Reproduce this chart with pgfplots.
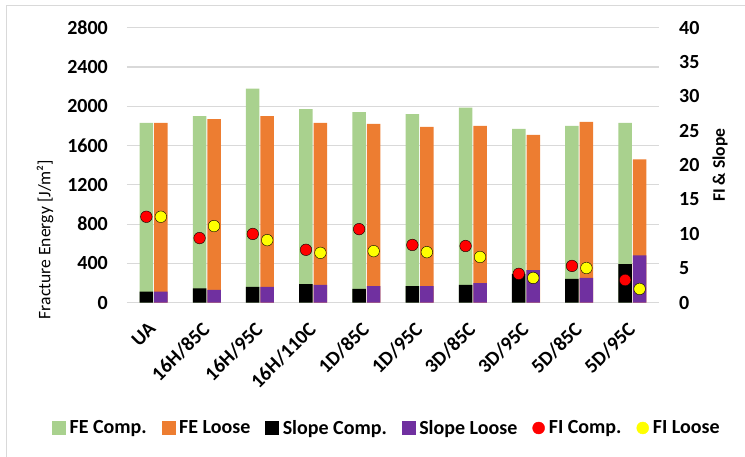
\documentclass[border=0pt]{standalone}
\usepackage{fontspec}
\setmainfont{Carlito}
\usepackage{pgfplots}
\pgfplotsset{compat=1.18}
\definecolor{fegreen}{HTML}{A9D18E}
\definecolor{feorange}{HTML}{ED7D31}
\definecolor{slpurple}{HTML}{7030A0}
\definecolor{gridgray}{HTML}{D9D9D9}
\definecolor{fiyellow}{HTML}{FFFF00}
\definecolor{fired}{HTML}{FF0000}
\begin{document}
\begin{tikzpicture}
\path[use as bounding box] (-127pt,-154.3pt) rectangle (618pt,302.7pt);
\begin{axis}[
 at={(0pt,0pt)}, anchor=south west, scale only axis, width=532pt, height=275pt,
 xmin=-0.5, xmax=9.5, ymin=0, ymax=2800,
 ytick={0,400,...,2800},
 xtick={0,...,9},
 xticklabels={UA,16H/85C,16H/95C,16H/110C,1D/85C,1D/95C,3D/85C,3D/95C,5D/85C,5D/95C},
 axis x line*=bottom, axis y line*=left,
 x axis line style={gridgray, line width=1.2pt, -}, y axis line style={draw=none},
 major tick length=0pt, tick style={draw=none},
 ymajorgrids, grid style={gridgray, line width=1.2pt},
 tick label style={font=\fontsize{20}{24}\selectfont\bfseries},
 /pgf/number format/assume math mode=true, /pgf/number format/1000 sep={},
 yticklabel style={anchor=east, inner sep=0pt, xshift=-19pt},
 xticklabel style={inner sep=0pt, xshift=-6pt, yshift=-18pt, rotate=45, anchor=north east},
 ylabel={Fracture Energy [J/m²]},
 ylabel style={font=\fontsize{17.6}{21}\selectfont, at={(axis description cs:-0.154,0.23)}, anchor=center},
]
\addplot[ybar, bar width=13.5pt, bar shift=-7.25pt, fill=fegreen, draw=none] coordinates {
(0,1830) (1,1900) (2,2180) (3,1970) (4,1940) (5,1920) (6,1985) (7,1770) (8,1800) (9,1830)};
\addplot[ybar, bar width=13.5pt, bar shift=7.25pt, fill=feorange, draw=none] coordinates {
(0,1830) (1,1870) (2,1900) (3,1830) (4,1820) (5,1790) (6,1800) (7,1710) (8,1840) (9,1460)};
\end{axis}
\begin{axis}[
 at={(0pt,0pt)}, anchor=south west, scale only axis, width=532pt, height=275pt,
 xmin=-0.5, xmax=9.5, ymin=0, ymax=40,
 ytick={0,5,...,40},
 axis x line=none, axis y line*=right, y axis line style={draw=none},
 major tick length=0pt, tick style={draw=none},
 tick label style={font=\fontsize{20}{24}\selectfont\bfseries},
 /pgf/number format/assume math mode=true,
 yticklabel style={anchor=west, inner sep=0pt, xshift=20pt},
 ylabel={FI \& Slope},
 ylabel style={font=\fontsize{17.6}{21}\selectfont\bfseries, at={(axis description cs:1.1147,0.5)}, anchor=center},
 legend style={at={(axis description cs:0.4868,-0.4556)}, anchor=center, draw=none, fill=none,
   legend columns=6, font=\fontsize{20}{24}\selectfont\bfseries,
   /tikz/every odd column/.append style={column sep=4pt},
   /tikz/every even column/.append style={column sep=15pt},
   nodes={inner sep=0pt}},
 legend cell align=left,
]
\addlegendimage{legend image code/.code={\fill[fegreen] (0pt,-6.5pt) rectangle (13pt,6.5pt);}}
\addlegendentry{FE Comp.}
\addlegendimage{legend image code/.code={\fill[feorange] (0pt,-6.5pt) rectangle (13pt,6.5pt);}}
\addlegendentry{FE Loose}
\addlegendimage{legend image code/.code={\fill[black] (0pt,-6.5pt) rectangle (13pt,6.5pt);}}
\addlegendentry{Slope Comp.}
\addlegendimage{legend image code/.code={\fill[slpurple] (0pt,-6.5pt) rectangle (13pt,6.5pt);}}
\addlegendentry{Slope Loose}
\addlegendimage{legend image code/.code={\fill[fired] (6pt,0pt) circle (6pt);}}
\addlegendentry{FI Comp.}
\addlegendimage{legend image code/.code={\fill[fiyellow] (6pt,0pt) circle (6pt);}}
\addlegendentry{FI Loose}
\addplot[ybar, bar width=13.5pt, bar shift=-7.25pt, fill=black, draw=none, forget plot] coordinates {
(0,1.6) (1,2.1) (2,2.3) (3,2.7) (4,2.0) (5,2.4) (6,2.6) (7,4.2) (8,3.45) (9,5.6)};
\addplot[ybar, bar width=13.5pt, bar shift=7.25pt, fill=slpurple, draw=none, forget plot] coordinates {
(0,1.6) (1,1.85) (2,2.3) (3,2.6) (4,2.4) (5,2.4) (6,2.85) (7,4.75) (8,3.6) (9,6.9)};
\addplot[only marks, mark=*, mark size=5.8pt, mark options={fill=fired, draw=none}, forget plot] coordinates {
(-0.136,12.5) (0.864,9.4) (1.864,10.0) (2.864,7.7) (3.864,10.7) (4.864,8.4) (5.864,8.25) (6.864,4.2) (7.864,5.35) (8.864,3.3)};
\addplot[only marks, mark=*, mark size=5.8pt, mark options={fill=fiyellow, draw=none}, forget plot] coordinates {
(0.136,12.5) (1.136,11.15) (2.136,9.1) (3.136,7.25) (4.136,7.5) (5.136,7.35) (6.136,6.65) (7.136,3.6) (8.136,5.05) (9.136,2.0)};
\end{axis}
\draw[gridgray, line width=1pt] (-120pt,-154.3pt) -- (-120pt,296.7pt) -- (618pt,296.7pt);
\end{tikzpicture}
\end{document}
